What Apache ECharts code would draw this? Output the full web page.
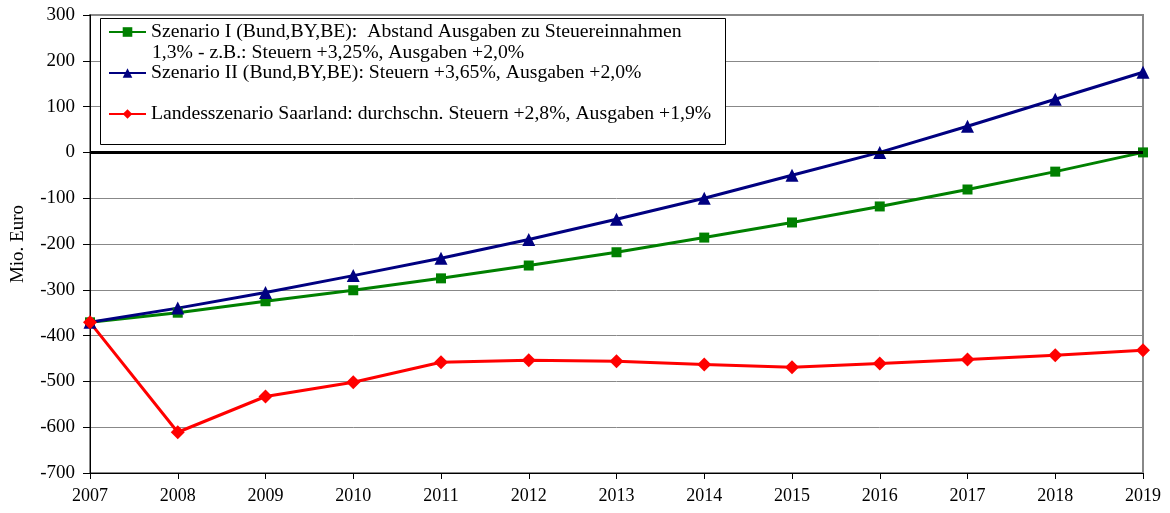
<!DOCTYPE html>
<html>
<head>
<meta charset="utf-8">
<script src="https://cdn.jsdelivr.net/npm/echarts@6/dist/echarts.min.js"></script>
<style>
  html, body { margin: 0; padding: 0; background: #fff; }
  #chart { width: 1170px; height: 513px; }
</style>
</head>
<body>
<div id="chart"></div>
<script>
// Jahre (x-Achse)
var years = ["2007", "2008", "2009", "2010", "2011", "2012", "2013", "2014", "2015", "2016", "2017", "2018", "2019"];

// Szenario I: Abstand Ausgaben zu Steuereinnahmen 1,3%
var szenario1 = [-371, -350, -325, -301, -275, -247, -218, -186, -153, -118, -81, -42, 0];
// Szenario II: Steuern +3,65%, Ausgaben +2,0%
var szenario2 = [-371, -340, -306, -269, -231, -190, -146, -100, -50, 0, 57, 116, 175];
// Landesszenario Saarland
var saarland = [-371, -611, -533, -502, -458, -454, -456, -463, -469, -461, -452, -443, -432];

var name1 = "Szenario I (Bund,BY,BE):  Abstand Ausgaben zu Steuereinnahmen";
var name1b = "1,3% - z.B.: Steuern +3,25%, Ausgaben +2,0%";
var name2 = "Szenario II (Bund,BY,BE): Steuern +3,65%, Ausgaben +2,0%";
var name3 = "Landesszenario Saarland: durchschn. Steuern +2,8%, Ausgaben +1,9%";

var font = "Liberation Serif, Times New Roman, serif";

var chart = echarts.init(document.getElementById("chart"));

// gemeinsame Einstellungen der Legenden
function legendAt(name, top) {
  return {
    data: [name],
    orient: "vertical",
    left: 108,
    top: top,
    itemWidth: 37,
    itemHeight: 12,
    padding: 0,
    itemGap: 0,
    selectedMode: false,
    textStyle: { fontFamily: font, fontSize: 19.7, color: "#000" }
  };
}

var option = {
  animation: false,
  textStyle: { fontFamily: font },
  grid: {
    left: 90,
    right: 27,
    top: 15,
    bottom: 40,
    show: true,
    borderColor: "#888",
    borderWidth: 2
  },
  legend: [
    legendAt(name1, 22),
    legendAt(name2, 63),
    legendAt(name3, 104)
  ],
  graphic: [
    {
      type: "rect",
      z: 3,
      shape: { x: 100.5, y: 18.5, width: 625, height: 126 },
      style: { fill: "#fff", stroke: "#000", lineWidth: 1 }
    },
    {
      type: "text",
      z: 5,
      left: 152,
      top: 43,
      style: { text: name1b, font: "19.7px " + font, fill: "#000" }
    }
  ],
  xAxis: {
    type: "category",
    data: years,
    boundaryGap: false,
    axisLine: { onZero: false, lineStyle: { color: "#000", width: 1 } },
    axisTick: { show: true, length: 6, lineStyle: { color: "#000" } },
    axisLabel: { color: "#000", fontSize: 18, fontFamily: font, margin: 14 },
    splitLine: { show: false }
  },
  yAxis: {
    type: "value",
    min: -700,
    max: 300,
    interval: 100,
    name: "Mio. Euro",
    nameLocation: "middle",
    nameGap: 62,
    nameTextStyle: { color: "#000", fontSize: 19, fontFamily: font },
    axisLine: { show: true, lineStyle: { color: "#000", width: 1 } },
    axisTick: { show: true, length: 7, lineStyle: { color: "#000" } },
    axisLabel: { color: "#000", fontSize: 19, fontFamily: font, margin: 15 },
    splitLine: { show: true, lineStyle: { color: "#888", width: 1 } }
  },
  series: [
    {
      name: name1,
      type: "line",
      data: szenario1,
      symbol: "rect",
      symbolSize: 10,
      color: "#008000",
      lineStyle: { width: 3, color: "#008000" },
      itemStyle: { color: "#008000" },
      markLine: {
        silent: true,
        symbol: "none",
        label: { show: false },
        lineStyle: { color: "#000", width: 3, type: "solid" },
        data: [{ yAxis: 0 }]
      }
    },
    {
      name: name2,
      type: "line",
      data: szenario2,
      symbol: "triangle",
      symbolSize: 13,
      color: "#000080",
      lineStyle: { width: 3, color: "#000080" },
      itemStyle: { color: "#000080" }
    },
    {
      name: name3,
      type: "line",
      data: saarland,
      symbol: "diamond",
      symbolSize: 14,
      color: "#ff0000",
      lineStyle: { width: 3, color: "#ff0000" },
      itemStyle: { color: "#ff0000" }
    }
  ]
};

chart.setOption(option);
</script>
</body>
</html>
